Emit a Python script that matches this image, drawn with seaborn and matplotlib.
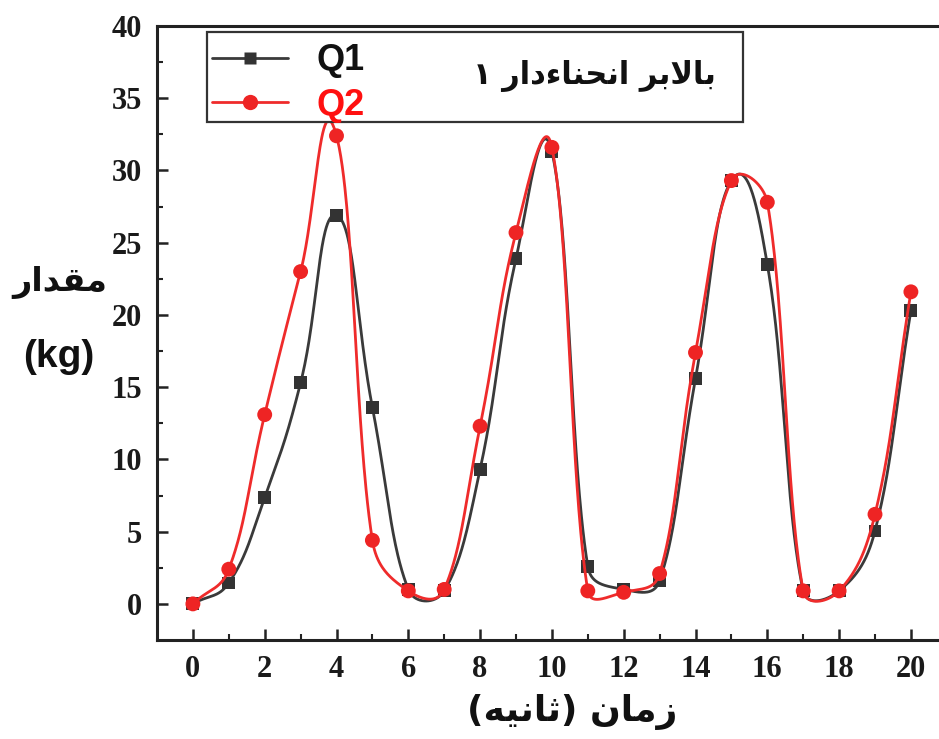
import numpy as np
import pandas as pd
import matplotlib
matplotlib.use("Agg")
import matplotlib.pyplot as plt
from matplotlib.lines import Line2D
from matplotlib.patches import Rectangle
import seaborn as sns

# ---- data ----
time_s = [0, 1, 2, 3, 4, 5, 6, 7, 8, 9, 10, 11, 12, 13, 14, 15, 16, 17, 18, 19, 20]
q1 = [0.0, 1.45, 7.35, 15.3, 26.9, 13.6, 1.0, 0.9, 9.3, 23.9, 31.3, 2.6, 1.0, 1.6, 15.6, 29.3, 23.5, 0.9, 0.9, 5.05, 20.3]
q2 = [0.0, 2.4, 13.1, 23.0, 32.4, 4.4, 0.9, 1.0, 12.3, 25.7, 31.6, 0.9, 0.8, 2.1, 17.4, 29.3, 27.8, 0.9, 0.9, 6.2, 21.6]
series_names = ["Q1", "Q2"]
x_ticks = [0, 2, 4, 6, 8, 10, 12, 14, 16, 18, 20]
y_ticks = [0, 5, 10, 15, 20, 25, 30, 35, 40]
title_text = "بالابر انحناءدار ۱"
ylabel_fa = "مقدار"
ylabel_unit = "(kg)"
xlabel_text = "زمان (ثانیه)"

# ---- minimal Arabic-script shaping (matplotlib has no text shaping) ----
FORMS = {
    '\u0627': ('\uFE8D', '\uFE8E', None, None),
    '\u0628': ('\uFE8F', '\uFE90', '\uFE91', '\uFE92'),
    '\u062B': ('\uFE99', '\uFE9A', '\uFE9B', '\uFE9C'),
    '\u062D': ('\uFEA1', '\uFEA2', '\uFEA3', '\uFEA4'),
    '\u062F': ('\uFEA9', '\uFEAA', None, None),
    '\u0631': ('\uFEAD', '\uFEAE', None, None),
    '\u0632': ('\uFEAF', '\uFEB0', None, None),
    '\u0642': ('\uFED5', '\uFED6', '\uFED7', '\uFED8'),
    '\u0644': ('\uFEDD', '\uFEDE', '\uFEDF', '\uFEE0'),
    '\u0645': ('\uFEE1', '\uFEE2', '\uFEE3', '\uFEE4'),
    '\u0646': ('\uFEE5', '\uFEE6', '\uFEE7', '\uFEE8'),
    '\u0647': ('\uFEE9', '\uFEEA', '\uFEEB', '\uFEEC'),
    '\u06CC': ('\uFBFC', '\uFBFD', '\uFBFE', '\uFBFF'),
    '\u0621': ('\uFE80', None, None, None),
}


def _dual(c):
    return c in FORMS and FORMS[c][2] is not None


def _joinable(c):
    return c in FORMS and FORMS[c][1] is not None


def shape_rtl(s):
    ch = list(s)
    out = []
    i = 0
    while i < len(ch):
        c = ch[i]
        prev = ch[i - 1] if i > 0 else None
        nxt = ch[i + 1] if i + 1 < len(ch) else None
        jp = prev is not None and _dual(prev) and _joinable(c)
        if c == '\u0644' and nxt == '\u0627':
            out.append('\uFEFC' if jp else '\uFEFB')
            i += 2
            continue
        jn = _dual(c) and nxt is not None and _joinable(nxt)
        if c in FORMS:
            iso, fin, ini, med = FORMS[c]
            if jp and jn:
                out.append(med)
            elif jp:
                out.append(fin)
            elif jn:
                out.append(ini)
            else:
                out.append(iso)
        else:
            out.append(c)
        i += 1
    mirror = {'(': ')', ')': '('}
    return ''.join(mirror.get(c, c) for c in reversed(out))


def smooth_curve(x, y, sx=35.9, sy=14.45, k=0.45, n=60):
    """Smooth line through the points (Bezier segments, tangents set in display space)."""
    P = np.column_stack([np.asarray(x, float) * sx, np.asarray(y, float) * sy])
    m = len(P)
    D = np.zeros_like(P)
    for i in range(m):
        a = P[max(i - 1, 0)]
        b = P[min(i + 1, m - 1)]
        v = b - a
        D[i] = v / np.hypot(*v)
    ts = np.linspace(0, 1, n)[:, None]
    xs, ys = [], []
    for i in range(m - 1):
        p0, p3 = P[i], P[i + 1]
        L = np.hypot(*(p3 - p0))
        dx = p3[0] - p0[0]
        a1 = min(k * L, 0.5 * dx / max(D[i][0], 1e-9))
        a2 = min(k * L, 0.5 * dx / max(D[i + 1][0], 1e-9))
        p1 = p0 + D[i] * a1
        p2 = p3 - D[i + 1] * a2
        B = ((1 - ts) ** 3 * p0 + 3 * (1 - ts) ** 2 * ts * p1
             + 3 * (1 - ts) * ts ** 2 * p2 + ts ** 3 * p3)
        if i > 0:
            B = B[1:]
        xs.append(B[:, 0] / sx)
        ys.append(B[:, 1] / sy)
    return np.concatenate(xs), np.concatenate(ys)


# ---- figure ----
sns.set_theme(style="ticks")
plt.rcParams['font.family'] = ['Liberation Serif', 'DejaVu Sans']

W, H = 939, 739
fig = plt.figure(figsize=(W / 100, H / 100), dpi=100)
fig.patch.set_facecolor("white")
ax = fig.add_axes([157 / W, (H - 640) / H, 1 - 157 / W, (640 - 26) / H])
ax.set_facecolor("white")

c1_line, c1_mark = "#3a3a3a", "#333333"
c2_line, c2_mark = "#ef2b2b", "#ee2424"

x1s, y1s = smooth_curve(time_s, q1)
x2s, y2s = smooth_curve(time_s, q2)
df_q1 = pd.DataFrame({"t": x1s, "v": y1s})
df_q2 = pd.DataFrame({"t": x2s, "v": y2s})
df_p1 = pd.DataFrame({"t": time_s, "v": q1})
df_p2 = pd.DataFrame({"t": time_s, "v": q2})

sns.lineplot(data=df_q1, x="t", y="v", color=c1_line, lw=2.0, ax=ax,
             sort=False, estimator=None, legend=False, zorder=3)
sns.scatterplot(data=df_p1, x="t", y="v", color=c1_mark, marker="s",
                s=85, edgecolor="none", ax=ax, legend=False, zorder=4)
sns.lineplot(data=df_q2, x="t", y="v", color=c2_line, lw=2.0, ax=ax,
             sort=False, estimator=None, legend=False, zorder=5)
sns.scatterplot(data=df_p2, x="t", y="v", color=c2_mark, marker="o",
                s=115, edgecolor="none", ax=ax, legend=False, zorder=6)

ax.set_xlim(-1, -1 + (W - 157) / 35.9)
ax.set_ylim(-2.5, 40)
ax.set_xticks(x_ticks)
ax.set_xticks([1, 3, 5, 7, 9, 11, 13, 15, 17, 19], minor=True)
ax.set_yticks(y_ticks)
ax.set_yticks([2.5, 7.5, 12.5, 17.5, 22.5, 27.5, 32.5, 37.5], minor=True)
ax.set_xticklabels([str(v) for v in x_ticks])
ax.set_yticklabels([str(v) for v in y_ticks])
ax.tick_params(which="major", direction="in", length=8, width=1.8, color="#222222",
               labelsize=22, pad=11)
ax.tick_params(which="minor", direction="in", length=4, width=1.5, color="#222222")
for lab in ax.get_xticklabels() + ax.get_yticklabels():
    lab.set_fontweight("bold")
    lab.set_family("Liberation Serif")
    lab.set_color("#1a1a1a")
ax.set_xlabel("")
ax.set_ylabel("")
for side in ["left", "bottom", "top"]:
    ax.spines[side].set_color("#222222")
    ax.spines[side].set_linewidth(2.2)
ax.spines["right"].set_visible(False)

# legend box
ax.add_patch(Rectangle((207 / W, 1 - 122 / H), (743 - 207) / W, (122 - 32) / H,
                       transform=fig.transFigure, fill=True, facecolor="white",
                       edgecolor="#333333", lw=1.6, clip_on=False, zorder=7))
handles = [
    Line2D([], [], color=c1_line, lw=2.0, marker="s", markersize=9, markerfacecolor=c1_mark,
           markeredgecolor="none"),
    Line2D([], [], color=c2_line, lw=2.0, marker="o", markersize=11, markerfacecolor=c2_mark,
           markeredgecolor="none"),
]
leg = ax.legend(handles, series_names, loc="upper left",
                bbox_to_anchor=(205 / W, 1 - 36 / H), bbox_transform=fig.transFigure,
                frameon=False, handlelength=2.1, handletextpad=0.8, labelspacing=0.26,
                borderaxespad=0, borderpad=0.2,
                prop={"family": "Liberation Sans", "weight": "bold", "size": 26})
leg.set_zorder(8)
leg.get_texts()[1].set_color("#ff1010")
leg.get_texts()[0].set_color("#111111")

fig.text(594 / W, 1 - 76 / H, shape_rtl(title_text), ha="center", va="center",
         fontsize=22, fontweight="bold", family=["DejaVu Sans"], color="#111111", zorder=9)

# axis labels
fig.text(60 / W, 1 - 283 / H, shape_rtl(ylabel_fa), ha="center", va="center",
         fontsize=24, fontweight="bold", family=["DejaVu Sans"], color="#111111")
fig.text(59 / W, 1 - 357 / H, ylabel_unit, ha="center", va="center",
         fontsize=28, fontweight="bold", family=["Liberation Sans"], color="#111111")
fig.text(572 / W, 1 - 712 / H, shape_rtl(xlabel_text), ha="center", va="center",
         fontsize=26, fontweight="bold", family=["DejaVu Sans"], color="#111111")

fig.savefig("out.png", dpi=100, facecolor="white")
